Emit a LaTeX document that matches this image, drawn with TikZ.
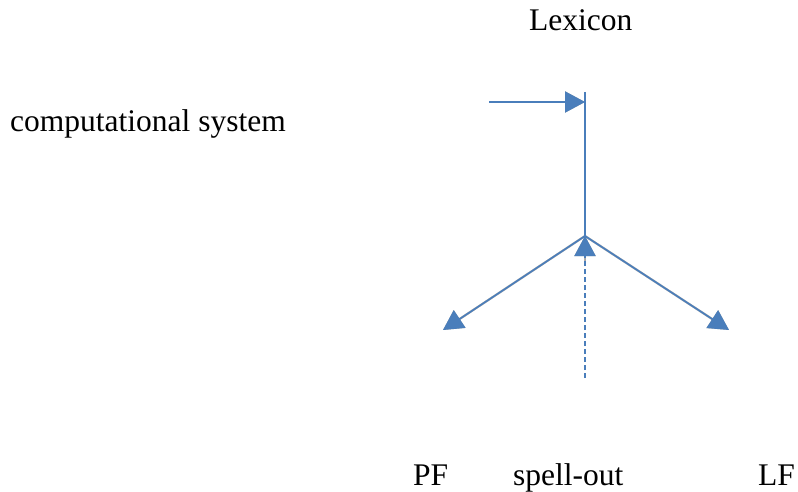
\documentclass[tikz,border=0pt]{standalone}
\usepackage{fontspec}
\setmainfont{Liberation Serif}
\usetikzlibrary{arrows.meta}
\definecolor{linkblue}{RGB}{74,126,187}
\tikzset{
  label/.style={inner sep=0pt, font=\fontsize{31.5}{36}\selectfont},
  link/.style={draw=linkblue, line width=1.6pt, -{Triangle[length=20pt,width=21pt]}},
  plain/.style={draw=linkblue, line width=1.6pt},
  dashlink/.style={link, dash pattern=on 5pt off 3pt},
  shade/.style={draw=black, fill=black, opacity=0.12, line width=2.2pt, -{Triangle[length=20pt,width=21pt]}}
}
\begin{document}
\begin{tikzpicture}[x=1pt,y=-1pt]
\useasboundingbox (0,0) rectangle (798,492);

% texts
\node[label, anchor=base west] (lex) at (529,31) {Lexicon};
\node[label, anchor=base west] (cs) at (10,132) {computational system};
\node[label, anchor=base west] (pftxt) at (413,485) {PF};
\node[label, anchor=base west] (sotxt) at (513,485) {spell-out};
\node[label, anchor=base west] (lftxt) at (758,485) {LF};

% anchor points of the derivation
\coordinate (src) at (489,102);
\coordinate (hit) at (585,102);
\coordinate (top) at (585,92);
\coordinate (join) at (585,236);
\coordinate (pf) at (443,330);
\coordinate (lf) at (729,330);
\coordinate (so) at (585,378);
\coordinate (sotip) at (585,262);

% soft drop shadows under the arrows
\foreach \dx/\dy in {2/3,3/4,4/5}{
  \begin{scope}[shift={(\dx,\dy)}]
    \path[shade] (src) -- (hit);
    \path[shade] (join) -- (pf);
    \path[shade] (join) -- (lf);
    \path[shade, -] (top) -- (join);
    \path[shade] (sotip) -- (join);
  \end{scope}
}

% arrows
\draw[link] (src) -- (hit);
\draw[plain] (top) -- (join);
\draw[link] (join) -- (pf);
\draw[link] (join) -- (lf);
\draw[dashlink] (so) -- (join);
\end{tikzpicture}
\end{document}
